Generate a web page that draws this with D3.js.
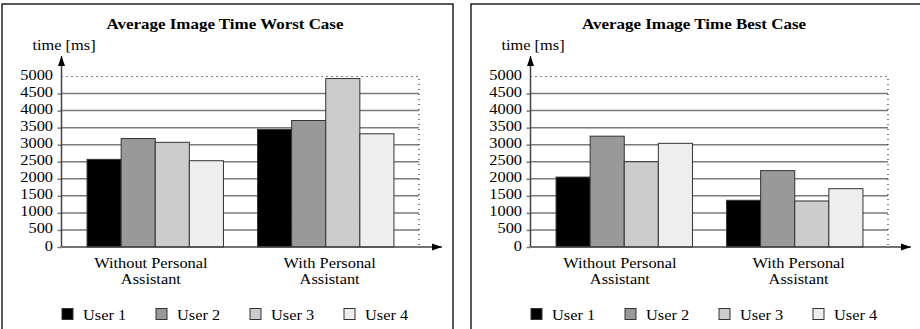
<!DOCTYPE html>
<html>
<head>
<meta charset="utf-8">
<script src="https://cdn.jsdelivr.net/npm/d3@7"></script>
<style>
  body { margin: 0; background: #fff; }
  svg { display: block; }
  svg text { font-family: "Liberation Serif", Tinos, "DejaVu Serif", serif; fill: #000; }
</style>
</head>
<body>
<div id="chart"></div>
<script>
// data
const categories = ["Without Personal Assistant", "With Personal Assistant"];
const categoryLines = [["Without Personal", "Assistant"], ["With Personal", "Assistant"]];
const users = ["User 1", "User 2", "User 3", "User 4"];
const worstCase = [[2570, 3180, 3070, 2530], [3450, 3710, 4940, 3320]];
const bestCase = [[2050, 3250, 2500, 3040], [1370, 2240, 1350, 1710]];
const yTicks = [0, 500, 1000, 1500, 2000, 2500, 3000, 3500, 4000, 4500, 5000];
const userColors = ["#000000", "#999999", "#cccccc", "#eeeeee"];

const width = 920;
const height = 329;
const stretch = 1.17; // text in the original looks horizontally stretched
const serif = "'Liberation Serif', Tinos, 'DejaVu Serif', serif";

const svg = d3.select("#chart")
    .append("svg")
    .attr("width", width)
    .attr("height", height)
    .attr("font-family", serif);

// arrowhead marker
svg.append("defs").append("marker")
    .attr("id", "arrow")
    .attr("viewBox", "0 0 10 10")
    .attr("refX", 10)
    .attr("refY", 5)
    .attr("markerWidth", 10)
    .attr("markerHeight", 10)
    .attr("markerUnits", "userSpaceOnUse")
    .attr("orient", "auto")
  .append("path")
    .attr("d", "M0,1.5 L10,5 L0,8.5 Z")
    .attr("fill", "#000");

function stretchedText(g, x, y, str, size, anchor, weight) {
  return g.append("text")
      .attr("transform", "translate(" + x + "," + y + ") scale(" + stretch + ",1)")
      .attr("text-anchor", anchor)
      .style("font-family", serif)
      .style("font-size", size + "px")
      .style("font-weight", weight || "normal")
      .text(str);
}

function drawPanel(bx, title, values) {
  const g = svg.append("g");

  // kader
  g.append("rect")
      .attr("x", bx)
      .attr("y", 4)
      .attr("width", 451)
      .attr("height", 345)
      .attr("fill", "none")
      .attr("stroke", "#000")
      .attr("stroke-width", 1.3);

  const axisX = bx + 59.5;
  const plotRight = bx + 417;
  const arrowTip = bx + 440;

  const yScale = d3.scaleLinear()
      .domain([0, 5000])
      .range([247, 76.5]);

  // label scale spans the whole plot, bars use a slightly narrower one
  const xLabel = d3.scaleBand()
      .domain(categories)
      .range([axisX, plotRight]);

  const xGroup = d3.scaleBand()
      .domain(categories)
      .range([axisX + 8.5, plotRight - 8])
      .paddingInner(0.2)
      .paddingOuter(0.1);

  const xUser = d3.scaleBand()
      .domain(users)
      .range([0, xGroup.bandwidth()]);

  // gridlijnen
  g.append("g").selectAll("line")
      .data(yTicks.filter(d => d > 0 && d < 5000))
      .join("line")
      .attr("x1", axisX)
      .attr("x2", plotRight)
      .attr("y1", d => yScale(d))
      .attr("y2", d => yScale(d))
      .attr("stroke", "#7a7a7a")
      .attr("stroke-width", 1.5);

  // dotted top and right border
  g.append("path")
      .attr("d", "M" + axisX + "," + yScale(5000) + " H" + plotRight + " V" + yScale(0))
      .attr("fill", "none")
      .attr("stroke", "#000")
      .attr("stroke-width", 1)
      .attr("stroke-dasharray", "1,4");

  // y-as met labels
  const yAxis = g.append("g")
      .attr("transform", "translate(" + axisX + ",0)")
      .call(d3.axisLeft(yScale).tickValues(yTicks).tickFormat(d3.format("d"))
        .tickSize(4).tickPadding(4.5));
  yAxis.attr("font-family", serif);
  yAxis.select(".domain").remove();
  yAxis.selectAll(".tick line")
      .attr("stroke", "#7a7a7a")
      .attr("stroke-width", 1.5)
      .attr("display", d => d === 5000 ? "none" : null);
  yAxis.selectAll(".tick text")
      .attr("x", 0)
      .attr("dy", null)
      .attr("transform", "translate(-8.5,3) scale(" + stretch + ",1)")
      .style("font-family", serif)
      .style("font-size", "14px");

  // bars
  categories.forEach(function (cat, ci) {
    g.append("g")
        .attr("transform", "translate(" + xGroup(cat) + ",0)")
      .selectAll("rect")
      .data(values[ci])
      .join("rect")
        .attr("x", (d, i) => xUser(users[i]))
        .attr("y", d => yScale(d))
        .attr("width", xUser.bandwidth())
        .attr("height", d => yScale(0) - yScale(d))
        .attr("fill", (d, i) => userColors[i])
        .attr("stroke", "#333")
        .attr("stroke-width", 1);
  });

  // assen met pijlen
  g.append("line")
      .attr("x1", axisX).attr("x2", axisX)
      .attr("y1", yScale(0)).attr("y2", 56)
      .attr("stroke", "#444")
      .attr("stroke-width", 1.5)
      .attr("marker-end", "url(#arrow)");
  g.append("line")
      .attr("x1", axisX).attr("x2", arrowTip)
      .attr("y1", yScale(0)).attr("y2", yScale(0))
      .attr("stroke", "#444")
      .attr("stroke-width", 1.5)
      .attr("marker-end", "url(#arrow)");

  // category labels
  categories.forEach(function (cat, ci) {
    const cx = xLabel(cat) + xLabel.bandwidth() / 2;
    categoryLines[ci].forEach(function (line, li) {
      stretchedText(g, cx, 267.5 + li * 16.5, line, 14, "middle");
    });
  });

  // titel en as-label
  stretchedText(g, bx + 223, 29, title, 14.5, "middle", "bold");
  stretchedText(g, bx + 62, 50, "time [ms]", 14, "middle");

  // legenda
  users.forEach(function (u, i) {
    const lx = axisX + i * 94;
    g.append("rect")
        .attr("x", lx + 0.5)
        .attr("y", 308.5)
        .attr("width", 11)
        .attr("height", 11)
        .attr("fill", userColors[i])
        .attr("stroke", "#333")
        .attr("stroke-width", 1);
    stretchedText(g, lx + 21.5, 319.5, u, 14, "start");
  });
}

drawPanel(2, "Average Image Time Worst Case", worstCase);
drawPanel(471, "Average Image Time Best Case", bestCase);
</script>
</body>
</html>
